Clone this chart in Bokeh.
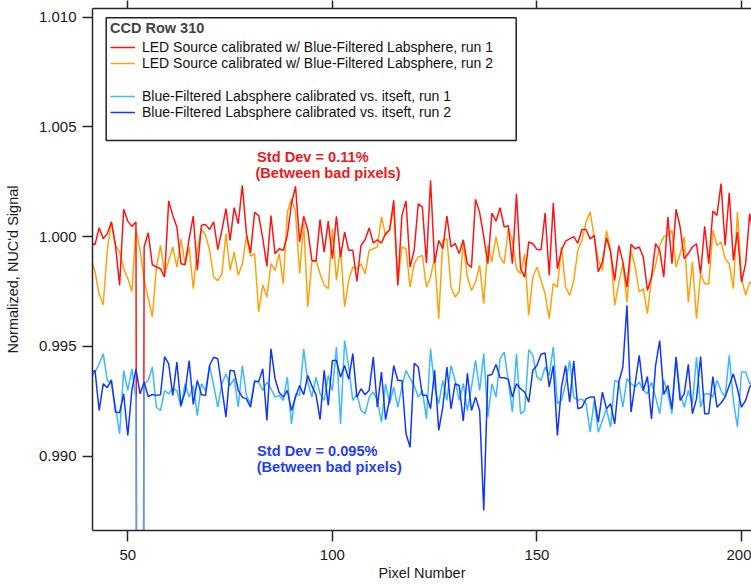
from bokeh.plotting import figure
from bokeh.models import (Legend, LegendItem, LinearAxis, FixedTicker, Label,
                          NumeralTickFormatter, Range1d, BoxAnnotation)
from bokeh.embed import file_html
from bokeh.resources import INLINE

# ---------------- data ----------------
pixels = list(range(41, 204))

led_run1 = [
    0.9997, 0.99964, 1.00041, 0.99991, 1.00014, 1.00067, 0.9996, 0.99778, 1.00125, 1.00071,
    1.00047, 1.00067, 0.90, 0.99953, 1.00018, 0.99872, 0.99862, 0.99854, 0.99816, 1.00163,
    1.00097, 1.00044, 0.99877, 0.99872, 0.99991, 1.00094, 0.99847, 1.00052, 1.00056, 1.00033,
    1.00067, 0.99941, 1.00029, 1.00128, 0.99983, 1.00132, 1.00059, 1.00234, 1.00014, 0.99926,
    1.00111, 1.00096, 0.99991, 0.99865, 1.00096, 0.99922, 0.99945, 0.99938, 1.00006, 1.0015,
    1.00229, 0.99976, 1.00093, 1.00029, 0.99892, 0.99889, 1.00078, 0.9993, 1.00071, 0.999,
    1.00093, 0.99907, 1.00021, 0.99938, 0.99938, 0.99796, 0.9996, 0.99986, 1.0004, 0.99971,
    0.99986, 0.99971, 1.00014, 1.00032, 1.00166, 0.99778, 1.00097, 1.00163, 0.99862, 0.99938,
    1.0015, 1.00135, 0.9988, 1.00257, 0.9988, 0.99983, 0.99945, 1.00094, 0.99953, 0.9997,
    0.99923, 0.99986, 0.99877, 0.9986, 1.0017, 1.0011, 1.0, 0.99877, 1.00108, 1.00071,
    1.00132, 1.00044, 1.0005, 0.99877, 1.00196, 0.99854, 0.99816, 0.99976, 0.99968, 0.99942,
    0.9994, 1.00108, 0.99824, 1.00153, 0.99854, 0.99938, 0.9998, 0.9999, 1.0, 0.9997,
    1.00033, 1.00033, 0.9999, 1.00006, 0.9984, 0.99885, 0.99995, 0.9993, 0.998, 0.9996,
    0.99885, 0.9977, 0.99965, 0.99945, 0.99953, 0.99907, 0.99755, 0.99816, 0.99968, 0.99938,
    0.99816, 1.0009, 0.99877, 1.00125, 1.00044, 0.999, 0.99923, 0.99953, 0.99968, 0.99831,
    1.00047, 0.99877, 1.00117, 1.00097, 1.00242, 0.9996, 1.002, 0.99892, 1.00021, 0.99793,
    0.99877, 1.00105, 1.0,
]

led_run2 = [
    0.999, 0.9984, 0.9974, 0.9969, 0.9994, 1.00067, 0.9996, 0.9993, 0.99854, 0.9981,
    0.9975, 1.0003, 0.9994, 0.998, 0.9972, 0.99634, 0.9986, 0.9996, 0.9983, 0.9989,
    0.99953, 0.9986, 0.9999, 0.99877, 0.99953, 0.99763, 0.9994, 1.00036, 1.00006, 0.99938,
    0.99816, 0.998, 0.9983, 1.00014, 0.99847, 0.9993, 0.99824, 0.99877, 1.0, 0.9991,
    0.99923, 0.99657, 0.9978, 0.99725, 0.99877, 0.99847, 0.99923, 0.99786, 1.00112, 1.00173,
    1.00112, 0.99831, 1.00059, 0.9968, 0.99885, 0.99892, 0.99831, 0.9978, 0.99763, 1.00036,
    0.99801, 0.99953, 0.9968, 0.998, 0.99862, 0.99854, 0.99877, 0.99831, 0.99938, 0.99945,
    0.99953, 1.0009, 1.00006, 1.00029, 1.00135, 0.9979, 0.99953, 0.99945, 0.9977, 0.99877,
    0.99907, 0.99915, 0.9977, 0.99816, 0.99907, 0.99626, 0.99983, 0.9999, 0.9977, 0.99725,
    0.9975, 0.99976, 0.99816, 0.99755, 0.99793, 0.9987, 0.99695, 0.9996, 0.99885, 1.0,
    0.99907, 0.99877, 1.00036, 0.99983, 0.99854, 0.99831, 0.99922, 0.99641, 0.99816, 0.99862,
    0.998, 0.9974, 0.99626, 0.99786, 0.9977, 0.99953, 0.9977, 0.99733, 0.998, 0.99938,
    0.99983, 1.00067, 1.00112, 1.0, 0.99892, 0.99847, 1.00029, 0.99938, 0.99687, 0.99786,
    0.99877, 0.99702, 0.99938, 0.99862, 0.99748, 0.99763, 0.9965, 0.9981, 0.9987, 0.9996,
    1.0, 1.00006, 1.00029, 0.99862, 0.99922, 1.0, 0.99702, 0.99885, 0.99626, 0.99831,
    0.99786, 0.99786, 1.00029, 0.9996, 0.99976, 0.999, 0.99877, 0.99763, 1.00112, 0.9981,
    0.99733, 0.99793, 0.9978,
]

lab_run1 = [
    0.9936, 0.99383, 0.99421, 0.99467, 0.99345, 0.9933, 0.99223, 0.99102, 0.99391, 0.99299,
    0.99398, 0.9926, 0.90, 0.9933, 0.99345, 0.99406, 0.99223, 0.99208, 0.99299, 0.99284,
    0.99307, 0.99299, 0.99223, 0.9933, 0.99269, 0.99322, 0.99185, 0.9933, 0.99299, 0.99413,
    0.99322, 0.99223, 0.9933, 0.99375, 0.99322, 0.99353, 0.99223, 0.99413, 0.99277, 0.99239,
    0.99345, 0.99337, 0.99299, 0.99337, 0.99307, 0.99269, 0.99277, 0.99254, 0.9936, 0.99147,
    0.99284, 0.99277, 0.99489, 0.99337, 0.99269, 0.9936, 0.99284, 0.99254, 0.99368, 0.99299,
    0.99497, 0.99147, 0.99527, 0.99406, 0.99254, 0.99284, 0.99208, 0.99193, 0.99269, 0.99292,
    0.99254, 0.99155, 0.9933, 0.99239, 0.99315, 0.99223, 0.99315, 0.99391, 0.99353, 0.99322,
    0.99269, 0.9930, 0.9917, 0.99489, 0.99315, 0.99239, 0.99345, 0.99254, 0.99413, 0.99345,
    0.99254, 0.9933, 0.99208, 0.99315, 0.99436, 0.99299, 0.99467, 0.99178, 0.9933, 0.99269,
    0.99444, 0.99474, 0.99345, 0.99201, 0.99467, 0.99193, 0.99208, 0.99485, 0.99459, 0.9936,
    0.99345, 0.99406, 0.99368, 0.99497, 0.99239, 0.99254, 0.9933, 0.99436, 0.99269, 0.99254,
    0.99261, 0.99239, 0.99109, 0.99254, 0.99109, 0.99163, 0.99216, 0.99132, 0.99345, 0.99337,
    0.99223, 0.99353, 0.9933, 0.99315, 0.99337, 0.99299, 0.99284, 0.99337, 0.99269, 0.99193,
    0.99345, 0.99284, 0.99193, 0.99451, 0.99284, 0.99223, 0.99299, 0.99239, 0.99451, 0.99223,
    0.99284, 0.99284, 0.99269, 0.99345, 0.99299, 0.99269, 0.99459, 0.99254, 0.99132, 0.99383,
    0.99383, 0.9933, 0.99337,
]

lab_run2 = [
    0.9938, 0.9939, 0.99208, 0.9933, 0.99312, 0.99348, 0.99201, 0.99198, 0.99284, 0.99094,
    0.9930, 0.99398, 0.99284, 0.99337, 0.99272, 0.99281, 0.99277, 0.9928, 0.99454, 0.99421,
    0.99277, 0.99429, 0.99231, 0.99292, 0.99436, 0.99236, 0.99345, 0.9928, 0.99277, 0.99413,
    0.99451, 0.99444, 0.9931, 0.99178, 0.99391, 0.99388, 0.9930, 0.99269, 0.99261, 0.99223,
    0.9934, 0.9934, 0.99398, 0.99163, 0.99489, 0.99353, 0.9929, 0.99269, 0.9930, 0.99208,
    0.99269, 0.99322, 0.9928, 0.99368, 0.9932, 0.9928, 0.99167, 0.99391, 0.99231, 0.99436,
    0.99436, 0.9936, 0.99413, 0.9935, 0.99467, 0.99269, 0.99307, 0.9928, 0.9930, 0.99451,
    0.99223, 0.99383, 0.99167, 0.9926, 0.99413, 0.99345, 0.99345, 0.99102, 0.99041, 0.99423,
    0.99406, 0.99277, 0.99277, 0.99216, 0.99391, 0.99117, 0.99223, 0.99406, 0.99216, 0.9933,
    0.99322, 0.9916, 0.99378, 0.99208, 0.99269, 0.99208, 0.98752, 0.99368, 0.99372, 0.99418,
    0.99357, 0.99357, 0.9935, 0.99269, 0.9933, 0.99307, 0.99292, 0.99246, 0.99391, 0.99413,
    0.99464, 0.9947, 0.99315, 0.99413, 0.99094, 0.99315, 0.99413, 0.99246, 0.99433, 0.99216,
    0.99223, 0.99261, 0.99269, 0.99269, 0.99155, 0.99292, 0.99216, 0.99239, 0.99147, 0.99337,
    0.99406, 0.99687, 0.99201, 0.9933, 0.99459, 0.99299, 0.99363, 0.9917, 0.99413, 0.99527,
    0.99281, 0.99322, 0.99216, 0.99451, 0.99254, 0.99284, 0.99418, 0.99193, 0.99261, 0.99454,
    0.99193, 0.99193, 0.99363, 0.99223, 0.99242, 0.99269, 0.99322, 0.99375, 0.99307, 0.99223,
    0.99254, 0.99315, 0.99337,
]

series_labels = [
    "LED Source calibrated w/ Blue-Filtered Labsphere, run 1",
    "LED Source calibrated w/ Blue-Filtered Labsphere, run 2",
    "Blue-Filtered Labsphere calibrated vs. itseft, run 1",
    "Blue-Filtered Labsphere calibrated vs. itseft, run 2",
]
series_colors = ["#ff1414", "#ffa20a", "#3cb9ff", "#1238f5"]

x_ticks = [50, 100, 150, 200]
y_ticks = [0.990, 0.995, 1.000, 1.005, 1.010]

legend_title = "CCD Row 310"
red_note = ["Std Dev = 0.11%", "(Between bad pixels)"]
blue_note = ["Std Dev = 0.095%", "(Between bad pixels)"]

FONT = "Liberation Sans"

# ---------------- figure ----------------
p = figure(width=751, height=585,
           x_range=Range1d(41.38, 202.44), y_range=Range1d(0.986613, 1.010397),
           output_backend="svg", toolbar_location=None,
           min_border_left=92, min_border_right=0, min_border_top=8, min_border_bottom=55,
           x_axis_label="Pixel Number", y_axis_label="Normalized, NUC'd Signal")
p.grid.visible = False
p.outline_line_color = None
p.background_fill_color = "white"
p.border_fill_color = "white"

AX = "#262626"
for ax in (p.xaxis[0], p.yaxis[0]):
    ax.axis_line_color = AX
    ax.axis_line_width = 1.5
    ax.major_tick_line_color = AX
    ax.major_tick_line_width = 1.5
    ax.major_tick_in = 0
    ax.minor_tick_out = 0
    ax.minor_tick_in = 0
    ax.major_label_text_font = FONT
    ax.major_label_text_font_size = "15px"
    ax.major_label_text_color = "#1a1a1a"
    ax.axis_label_text_font = FONT
    ax.axis_label_text_font_size = "14.5px"
    ax.axis_label_text_font_style = "normal"
    ax.axis_label_text_color = "#1a1a1a"

xa = p.xaxis[0]
xa.ticker = FixedTicker(ticks=x_ticks, minor_ticks=[])
xa.major_tick_out = 11
xa.major_label_standoff = 8
xa.axis_label_standoff = 2

ya = p.yaxis[0]
ya.ticker = FixedTicker(ticks=y_ticks, minor_ticks=[])
ya.formatter = NumeralTickFormatter(format="0.000")
ya.major_tick_out = 10
ya.major_label_standoff = 6
ya.axis_label_standoff = 15

top = LinearAxis(ticker=FixedTicker(ticks=x_ticks, minor_ticks=[]),
                 axis_line_color=AX, axis_line_width=1.5,
                 major_tick_line_color=AX, major_tick_line_width=1.5,
                 major_tick_in=0, major_tick_out=8, minor_tick_in=0, minor_tick_out=0,
                 major_label_text_font_size="0px", major_label_text_color=None,
                 major_label_standoff=0)
p.add_layout(top, "above")

all_series = [led_run1, led_run2, lab_run1, lab_run2]
renderers = {}
for idx in [1, 0, 2, 3]:
    renderers[idx] = p.line(pixels, all_series[idx],
                            line_color=series_colors[idx], line_width=1.5)

# legend frame (white box with dark border)
p.add_layout(BoxAnnotation(left=44.728, right=144.93, top=1.009973, bottom=1.004381,
                           fill_color="white", fill_alpha=1.0,
                           line_color="#222222", line_width=1.5, line_alpha=1.0))

leg_style = dict(label_text_font=FONT, label_text_font_size="14px",
                 label_text_color="#111111", label_standoff=7,
                 glyph_width=25, glyph_height=16, label_height=16, spacing=0,
                 padding=0, margin=0, border_line_color=None,
                 background_fill_alpha=0.0)

legend_a = Legend(items=[LegendItem(label=series_labels[0], renderers=[renderers[0]]),
                         LegendItem(label=series_labels[1], renderers=[renderers[1]])],
                  location=(18, 459), title=legend_title,
                  title_text_font=FONT, title_text_font_size="14.5px",
                  title_text_font_style="bold", title_standoff=3, **leg_style)
legend_b = Legend(items=[LegendItem(label=series_labels[2], renderers=[renderers[2]]),
                         LegendItem(label=series_labels[3], renderers=[renderers[3]])],
                  location=(18, 410), **leg_style)
p.add_layout(legend_a)
p.add_layout(legend_b)

note_style = dict(text_font=FONT, text_font_size="14.6px", text_font_style="bold",
                  text_baseline="middle", text_align="left")
p.add_layout(Label(x=81.6, y=1.003619, text=red_note[0], text_color="#f01818", **note_style))
p.add_layout(Label(x=81.2, y=1.002890, text=red_note[1], text_color="#f01818", **note_style))
p.add_layout(Label(x=81.6, y=0.990219, text=blue_note[0], text_color="#1f3ff0", **note_style))
p.add_layout(Label(x=81.5, y=0.989490, text=blue_note[1], text_color="#1f3ff0", **note_style))

open("out.html", "w").write(file_html(p, INLINE))
